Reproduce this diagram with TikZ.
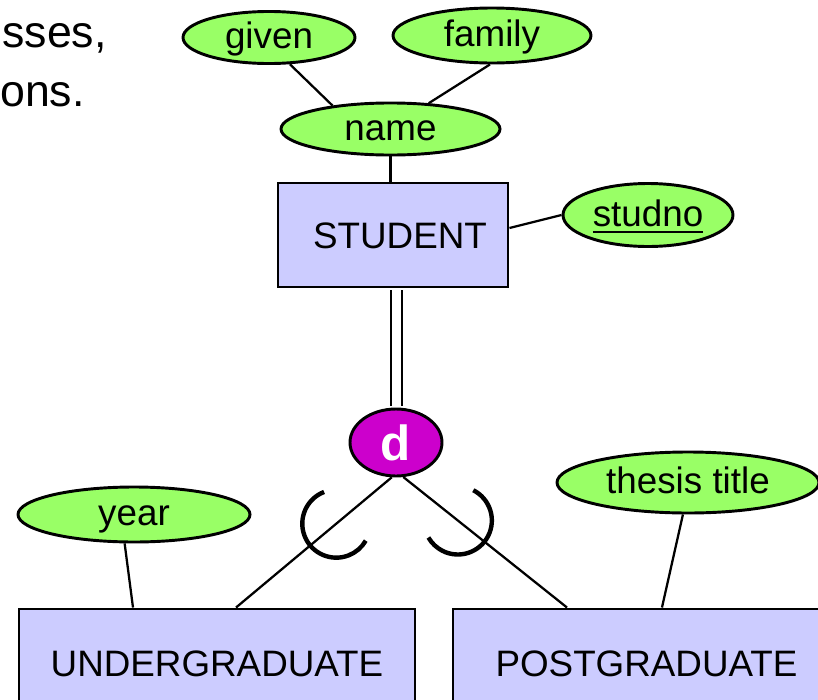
\documentclass[tikz,border=0pt]{standalone}
\usepackage{fontspec}
\setmainfont{Liberation Sans}
\usetikzlibrary{shapes.geometric,calc}
\definecolor{entfill}{HTML}{CCCCFF}
\definecolor{attfill}{HTML}{99FF66}
\definecolor{dfill}{HTML}{CC00CC}
\newsavebox\ulbox
\newcommand\myul[1]{\sbox\ulbox{#1}\rlap{\rule[-5.5pt]{\wd\ulbox}{2pt}}\usebox\ulbox}
\begin{document}
\begin{tikzpicture}[x=0.75pt,y=-0.75pt,
  every node/.style={inner sep=0pt, font=\fontsize{27.6pt}{33pt}\selectfont},
  attr/.style={ellipse, draw, line width=2.2pt, fill=attfill, text height=22.1pt, text depth=5.5pt},
  entity/.style={rectangle, draw, line width=2.2pt, fill=entfill, text height=19.8pt, text depth=0pt},
  conn/.style={line width=1.7pt},
  subset/.style={line width=3.3pt},
  bigtext/.style={anchor=base east, font=\fontsize{33.5pt}{40pt}\selectfont}
]
\useasboundingbox (0,0) rectangle (818,700);
\node[bigtext] (t1) at (107,47) {sses,};
\node[bigtext] (t2) at (85,106) {ons.};

\node[attr, minimum width=129pt, minimum height=38.25pt] (given) at (269,37.5) {given};
\node[attr, minimum width=148.5pt, minimum height=41.25pt] (family) at (492,35.5) {family};
\node[attr, minimum width=164.25pt, minimum height=37.5pt] (name) at (390.5,129) {name};
\node[entity, minimum width=172.5pt, minimum height=78pt] (student) at (393,235) {\hspace*{10.5pt}STUDENT};
\node[attr, minimum width=127.5pt, minimum height=47.25pt] (studno) at (648,215) {\myul{studno}};
\node[ellipse, draw, line width=2.2pt, fill=dfill, text=white, font=\fontsize{37pt}{44pt}\selectfont\bfseries, minimum width=69pt, minimum height=50.25pt] (d) at (396,442.5) {d};
\node[attr, minimum width=174pt, minimum height=41.25pt] (year) at (134,514.5) {year};
\node[attr, minimum width=196.5pt, minimum height=45.75pt] (thesis) at (688,482.5) {thesis title};
\node[entity, minimum width=297pt, minimum height=81pt] (ug) at (217,663) {UNDERGRADUATE};
\node[entity, minimum width=290.25pt, minimum height=81pt] (pg) at (646.5,663) {POSTGRADUATE};

\draw[conn] (given.-52) -- (name.158);
\draw[conn] (family.-94) -- (name.34);
\draw[conn] (name.south) -- (name.south |- student.north);
\draw[conn] ([yshift=5.25pt]student.east) -- (studno.west);
\draw[line width=1.5pt, double, double distance=6.75pt, shorten <=1.1pt, shorten >=1.1pt] (d.north) -- (d.north |- student.south);

\draw[conn] (d.-97) -- coordinate[pos=0.356] (subL) ([xshift=14.25pt]ug.north);
\draw[conn] (d.-78) -- coordinate[pos=0.333] (subR) ([xshift=-59.6pt]pg.north);
\draw[conn] (year.-108) -- ([xshift=-63pt]ug.north);
\draw[conn] (thesis.-99) -- ([xshift=11.6pt]pg.north);

\draw[subset] (subL) ++(249:34) arc[start angle=249, end angle=30, radius=34];
\draw[subset] (subR) ++(-63:34) arc[start angle=-63, end angle=150, radius=34];
\end{tikzpicture}
\end{document}
